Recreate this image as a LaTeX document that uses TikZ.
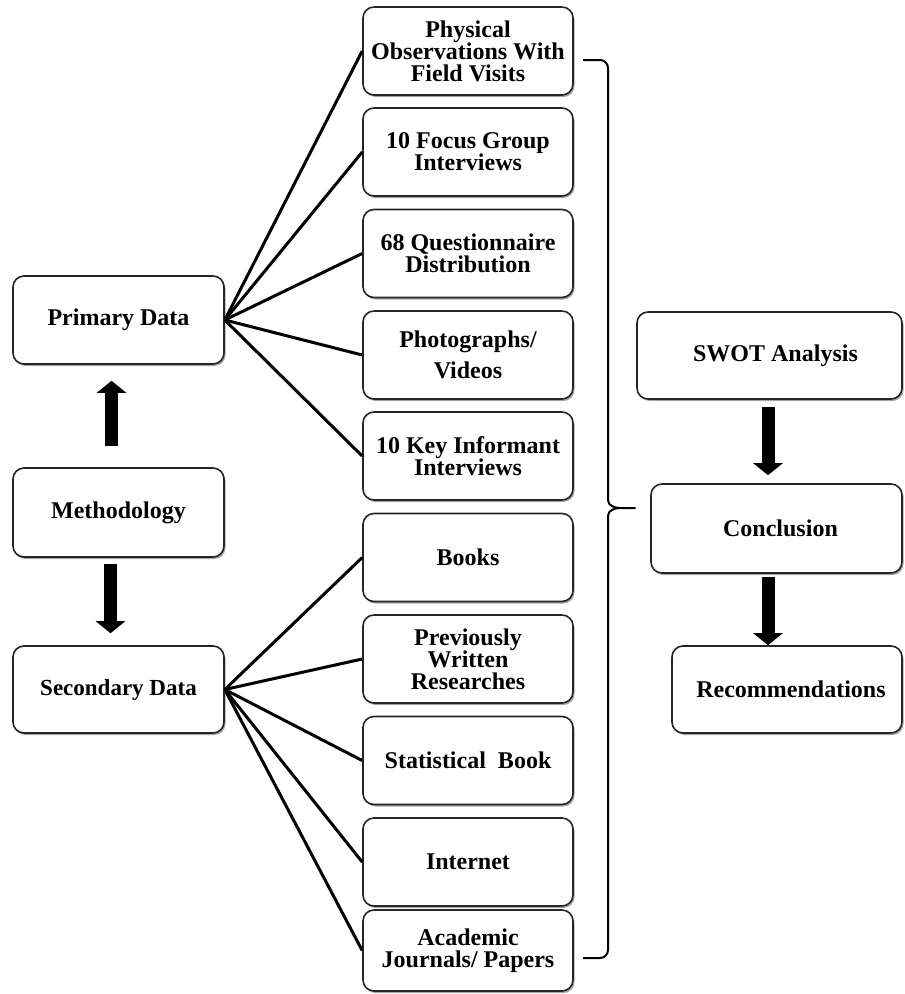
\documentclass[tikz,border=0pt]{standalone}
\usepackage{fontspec}
\setmainfont{Liberation Serif}
\usetikzlibrary{arrows.meta,shadows,calc}
\begin{document}
\begin{tikzpicture}[x=1pt,y=-1pt,
  box/.style={draw=black!85, line width=1.6pt, rounded corners=11pt, fill=white,
    align=center, inner sep=2pt, font=\bfseries\fontsize{24}{22}\selectfont,
    drop shadow={shadow xshift=1.5pt, shadow yshift=-2pt, fill=black, opacity=0.35}},
  mid/.style={box, minimum width=210pt, minimum height=88pt},
  lft/.style={box, minimum width=211pt, minimum height=88pt},
  link/.style={line width=3pt, black},
  fat/.style={line width=13pt, black, -{Triangle[width=29pt,length=12pt]}},
  brace/.style={line width=2pt, black, line join=round}
]
\useasboundingbox (0,0) rectangle (905,994);
% left column
\node[lft] (prim) at (118.5,320) {Primary Data};
\node[lft, minimum height=89pt] (meth) at (118.5,512.5) {Methodology};
\node[lft, minimum height=87pt, font=\bfseries\fontsize{23}{22}\selectfont] (sec) at (118.5,689.5) {Secondary Data};
% middle column
\node[mid] (m1) at (468,51) {Physical\\Observations With\\Field Visits};
\node[mid] (m2) at (468,152) {10 Focus Group\\Interviews};
\node[mid] (m3) at (468,253.5) {68 Questionnaire\\Distribution};
\node[mid] (m4) at (468,355) {Photographs/\\[9pt]Videos};
\node[mid] (m5) at (468,456) {10 Key Informant\\Interviews};
\node[mid] (m6) at (468,557.5) {Books};
\node[mid] (m7) at (468,659) {Previously\\Written\\Researches};
\node[mid] (m8) at (468,760.5) {Statistical\ \ Book};
\node[mid] (m9) at (468,862) {Internet};
\node[mid, minimum height=81pt] (m10) at (468,950.5) {Academic\\Journals/ Papers};
% right column
\node[box, minimum width=265pt, minimum height=87pt] (swot) at (769.5,355.5) {\hspace*{12pt}SWOT Analysis};
\node[box, minimum width=251pt, minimum height=89pt] (conc) at (776.5,528.5) {\hspace*{8pt}Conclusion};
\node[box, minimum width=230pt, minimum height=87pt] (rec) at (787,689.5) {\hspace*{8pt}Recommendations};
% connectors
\foreach \n in {m1,m2,m3,m4,m5} \draw[link] (prim.east) -- (\n.west);
\foreach \n in {m6,m7,m8,m9,m10} \draw[link] (sec.east) -- (\n.west);
% block arrows
\draw[fat] ($(meth.north)+(-7,-21)$) -- ($(prim.south)+(-7,16)$);
\draw[fat] ($(meth.south)+(-8,6)$) -- ($(sec.north)+(-8,-12)$);
\draw[fat] ($(swot.south)+(-1.5,7)$) -- ($(conc.north)+(-8.5,-8)$);
\draw[fat] ($(conc.south)+(-8.5,3)$) -- ($(rec.north)+(-19,0)$);
% brace
\coordinate (brTop) at (583,60);
\coordinate (brBot) at (583,958);
\coordinate (brTip) at (635,508);
\draw[brace] (brTop) -- (600,60) to[out=0,in=90] (608,68) -- (608,500)
  to[out=-90,in=180] (620,508) -- (brTip) -- (620,508)
  to[out=180,in=90] (608,516) -- (608,950) to[out=-90,in=0] (600,958) -- (brBot);
\end{tikzpicture}
\end{document}
